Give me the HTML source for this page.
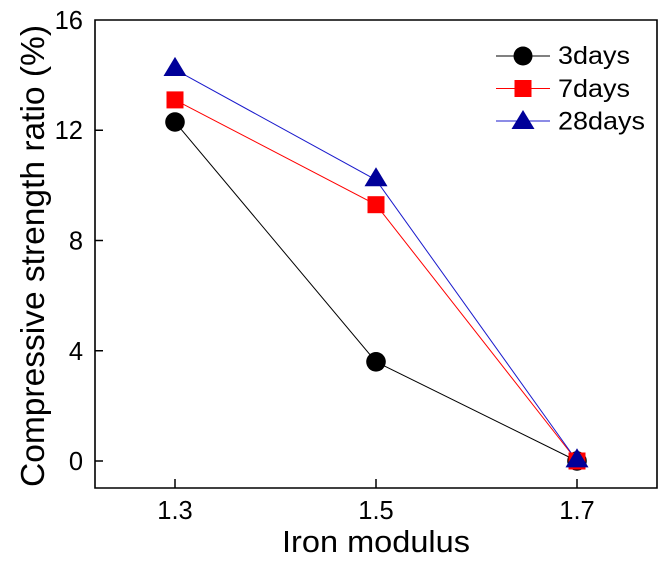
<!DOCTYPE html>
<html><head><meta charset="utf-8"><style>
html,body{margin:0;padding:0;background:#fff;}
svg{display:block;font-family:"Liberation Sans",Arial,sans-serif;}
</style></head><body>
<svg width="669" height="564" viewBox="0 0 669 564" xmlns="http://www.w3.org/2000/svg">
<rect width="669" height="564" fill="#fff"/>
<!-- axes frame -->
<path d="M95,20 H657 V488 H95 Z" fill="none" stroke="#000" stroke-width="1.6"/>
<!-- ticks -->
<g stroke="#000" stroke-width="1.5">
<line x1="95" y1="130.25" x2="103" y2="130.25"/>
<line x1="95" y1="240.5" x2="103" y2="240.5"/>
<line x1="95" y1="350.75" x2="103" y2="350.75"/>
<line x1="95" y1="461" x2="103" y2="461"/>
<line x1="175" y1="488" x2="175" y2="479"/>
<line x1="376" y1="488" x2="376" y2="479"/>
<line x1="577" y1="488" x2="577" y2="479"/>
</g>
<!-- y tick labels -->
<g font-size="25.5" text-anchor="end" fill="#000">
<text x="83" y="29">16</text>
<text x="83" y="139">12</text>
<text x="83" y="249.5">8</text>
<text x="83" y="360">4</text>
<text x="83" y="470">0</text>
</g>
<!-- x tick labels -->
<g font-size="25.5" text-anchor="middle" fill="#000">
<text x="175" y="519">1.3</text>
<text x="376" y="519">1.5</text>
<text x="577" y="519">1.7</text>
</g>
<text x="376" y="552" font-size="31" text-anchor="middle" textLength="188" lengthAdjust="spacingAndGlyphs">Iron modulus</text>
<text transform="translate(44,256) rotate(-90)" font-size="33" text-anchor="middle" textLength="462" lengthAdjust="spacingAndGlyphs">Compressive strength ratio (%)</text>

<!-- series lines -->
<polyline points="175,122 376,361.8 577,461" fill="none" stroke="#000" stroke-width="1"/>
<polyline points="175,99.9 376,204.7 577,461" fill="none" stroke="#ff0000" stroke-width="1"/>
<polyline points="175,69.6 376,179.9 577,461" fill="none" stroke="#1a1acc" stroke-width="1"/>

<!-- 3days markers -->
<g fill="#000">
<circle cx="175" cy="122" r="9.8"/>
<circle cx="376" cy="361.8" r="9.8"/>
<circle cx="577" cy="461" r="9.8"/>
</g>
<!-- 7days markers -->
<g fill="#ff0000">
<rect x="166.5" y="91.4" width="17" height="17"/>
<rect x="367.5" y="196.2" width="17" height="17"/>
<rect x="568.5" y="452.5" width="17" height="17"/>
</g>
<!-- 28days markers -->
<g fill="#000099">
<polygon points="175,56.9 186.5,76 163.5,76"/>
<polygon points="376,167.2 387.5,186.3 364.5,186.3"/>
<polygon points="577,448.3 588.5,467.4 565.5,467.4"/>
</g>

<!-- legend -->
<line x1="496" y1="56" x2="550" y2="56" stroke="#000" stroke-width="1"/>
<circle cx="523" cy="56" r="9.5" fill="#000"/>
<line x1="496" y1="88.5" x2="550" y2="88.5" stroke="#ff0000" stroke-width="1"/>
<rect x="514.5" y="80" width="17" height="17" fill="#ff0000"/>
<line x1="496" y1="121" x2="550" y2="121" stroke="#1a1acc" stroke-width="1"/>
<polygon points="523,110 534.5,129 511.5,129" fill="#000099"/>
<g font-size="25" fill="#000">
<text x="558" y="64" textLength="72" lengthAdjust="spacingAndGlyphs">3days</text>
<text x="558" y="97" textLength="72" lengthAdjust="spacingAndGlyphs">7days</text>
<text x="558" y="129.5" textLength="87" lengthAdjust="spacingAndGlyphs">28days</text>
</g>
</svg>
</body></html>
